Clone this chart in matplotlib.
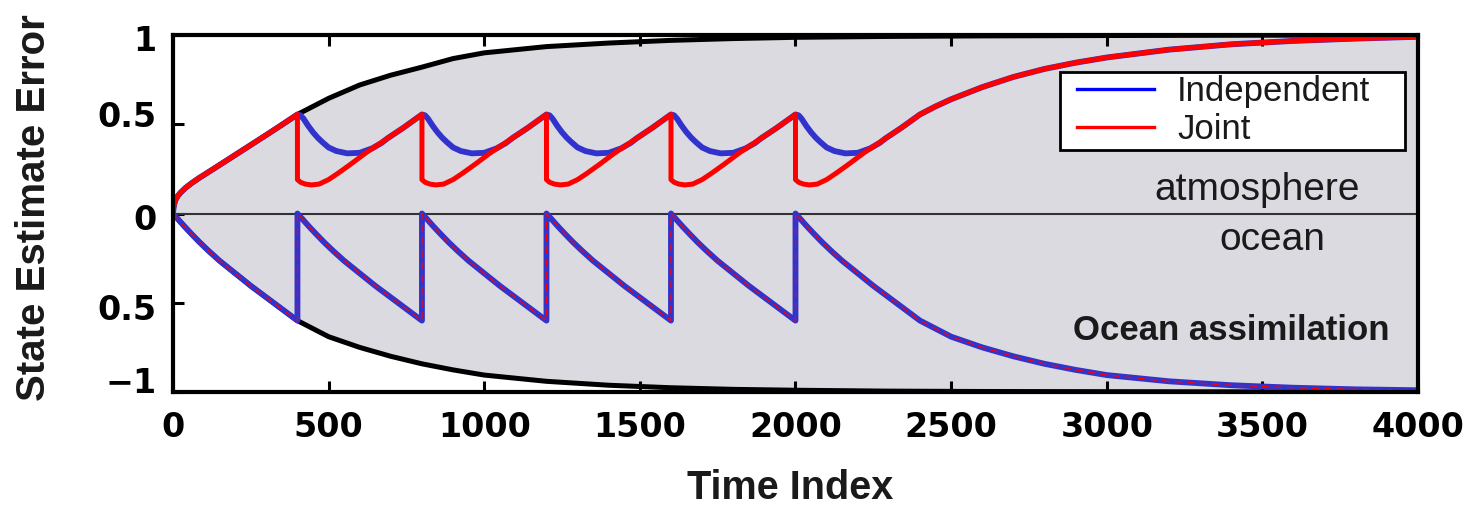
import numpy as np
import matplotlib
matplotlib.use("Agg")
import matplotlib.pyplot as plt
from matplotlib.lines import Line2D
from matplotlib.patches import Rectangle
from matplotlib.transforms import ScaledTranslation

plt.rcParams['font.family'] = ['Liberation Sans', 'DejaVu Sans']

# ---- data ----
# envelopes (no assimilation), black curves
env_t = [0, 3, 8, 15, 25, 40, 60, 85, 115, 150, 200, 250, 300, 350, 400, 500,
         600, 700, 800, 900, 1000, 1200, 1400, 1600, 1800, 2000, 2300, 2600,
         3000, 3500, 4000]
atm_env = [0, 0.045, 0.075, 0.097, 0.118, 0.143, 0.17, 0.2, 0.233, 0.272, 0.328,
           0.384, 0.44, 0.497, 0.555, 0.645, 0.72, 0.775, 0.82, 0.868, 0.9,
           0.935, 0.955, 0.97, 0.98, 0.987, 0.992, 0.995, 0.997, 0.999, 1.0]
ocn_env = [0, -0.006, -0.016, -0.029, -0.049, -0.078, -0.115, -0.16, -0.21,
           -0.265, -0.335, -0.405, -0.47, -0.535, -0.6, -0.69, -0.75, -0.8,
           -0.842, -0.876, -0.905, -0.94, -0.962, -0.976, -0.985, -0.99, -0.995,
           -0.997, -0.998, -0.999, -1.0]

# ocean assimilation times
assim_t = [400, 800, 1200, 1600, 2000]

# atmosphere error after one assimilation (offset from assimilation time)
joint_off = [0, 0, 10, 25, 45, 70, 100, 130, 170, 220, 280, 340, 400]
joint_cyc = [0.555, 0.19, 0.175, 0.165, 0.16, 0.165, 0.19, 0.225, 0.275, 0.34,
             0.41, 0.48, 0.555]
indep_off = [0, 10, 20, 35, 50, 65, 80, 100, 125, 160, 200, 240, 270, 290, 340, 400]
indep_cyc = [0.555, 0.55, 0.53, 0.49, 0.455, 0.425, 0.4, 0.37, 0.35, 0.337, 0.34,
             0.365, 0.395, 0.422, 0.48, 0.555]

# atmosphere error after the last assimilation period
tail_t = [2450, 2500, 2600, 2700, 2800, 2900, 3000, 3200, 3400, 3600, 3800, 4000]
tail_atm = [0.6, 0.64, 0.708, 0.765, 0.81, 0.845, 0.874, 0.918, 0.948, 0.967,
            0.98, 0.99]

xticks = [0, 500, 1000, 1500, 2000, 2500, 3000, 3500, 4000]
yticks = [-1, -0.5, 0, 0.5, 1]
ytick_labels = ['\u22121', '0.5', '0', '0.5', '1']

# ---- build the series ----
env_t = np.array(env_t)
atm_env = np.array(atm_env)
ocn_env = np.array(ocn_env)
first = env_t <= 400


def atm_series(off, cyc):
    ts = [env_t[first]]
    vs = [atm_env[first]]
    for d in assim_t:
        ts.append(d + np.array(off))
        vs.append(np.array(cyc))
    ts.append(np.array(tail_t))
    vs.append(np.array(tail_atm))
    return np.concatenate(ts), np.concatenate(vs)


joint_t, joint_v = atm_series(joint_off, joint_cyc)
indep_t, indep_v = atm_series(indep_off, indep_cyc)

ocn_t = []
ocn_v = []
for d in [0] + assim_t:
    keep = env_t <= (2000 if d == 2000 else 400)
    ocn_t.append(d + env_t[keep])
    ocn_v.append(ocn_env[keep])
ocn_t = np.concatenate(ocn_t)
ocn_v = np.concatenate(ocn_v)

# ---- plot ----
fig = plt.figure(figsize=(14.73, 5.08), dpi=100)
ax = fig.add_axes([0.1174, 0.2283, 0.8453, 0.7028])

blue = '#3232cc'
red = '#ff0000'

ax.fill_between(env_t, ocn_env, atm_env, color='#dadae0', lw=0, zorder=1)
ax.axhline(0, color='#333333', lw=1.5, zorder=2)
ax.plot(env_t, atm_env, color='black', lw=3.6, zorder=2)
ax.plot(env_t, ocn_env, color='black', lw=3.6, zorder=2)

ax.plot(indep_t, indep_v, color=blue, lw=4.2, zorder=3)
ax.plot(joint_t, joint_v, color=red, lw=3.6, zorder=4)
ax.plot(ocn_t, ocn_v, color=blue, lw=4.2, zorder=3)
ax.plot(ocn_t, ocn_v, color=red, lw=0.9, ls=(0, (6, 4)), zorder=4)

ax.set_xlim(0, 4000)
ax.set_ylim(-1, 1)
ax.set_xticks(xticks)
ax.set_xticklabels([str(x) for x in xticks])
ax.set_yticks(yticks)
ax.set_yticklabels(ytick_labels)
ax.tick_params(direction='in', length=8, width=2.2, top=True, right=False,
               labelsize=24)
ax.tick_params(axis='x', pad=13.5)
ax.tick_params(axis='y', pad=12)
for lab in ax.get_xticklabels() + ax.get_yticklabels():
    lab.set_fontfamily('DejaVu Sans')
    lab.set_fontweight('bold')
# labels in the source sit a little off their ticks
ylab_dy = [12, -4, -3, 10, -3]
for lab, dy in zip(ax.get_yticklabels(), ylab_dy):
    lab.set_transform(lab.get_transform() +
                      ScaledTranslation(0, dy / 100, fig.dpi_scale_trans))
for s in ax.spines.values():
    s.set_linewidth(3)
    s.set_zorder(7)

# legend with its own box
box = Rectangle((0.7124, 0.6779), 0.2771, 0.2185, transform=ax.transAxes,
                facecolor='white', edgecolor='black', lw=2, zorder=5)
ax.add_patch(box)
handles = [Line2D([], [], color='#0000ff', lw=2.4),
           Line2D([], [], color=red, lw=2.4)]
leg = ax.legend(handles, ['Independent', 'Joint'], loc='upper left',
                bbox_to_anchor=(0.7261, 0.888), frameon=False, fontsize=25,
                handlelength=2.22, handletextpad=0.66, borderpad=0,
                borderaxespad=0, labelspacing=0.15)
leg.set_zorder(6)
for txt in leg.get_texts():
    txt.set_color('#1a1a1a')

ax.text(3483, 0.076, 'atmosphere', fontsize=28, ha='center', va='baseline',
        color='#1a1a1a', zorder=6)
ax.text(3531, -0.204, 'ocean', fontsize=28, ha='center', va='baseline',
        color='#1a1a1a', zorder=6)
ax.text(3399, -0.709, 'Ocean assimilation', fontsize=25, fontweight='bold',
        ha='center', va='baseline', color='#1a1a1a', zorder=6)

fig.text(34 / 1473, 1 - 208 / 508, 'State Estimate Error', rotation=90,
         ha='center', va='center', fontsize=29, fontweight='bold',
         color='#1a1a1a')
fig.text(790 / 1473, 9 / 508, 'Time Index', ha='center', va='baseline',
         fontsize=28.5, fontweight='bold', color='#1a1a1a')

fig.savefig('out.png', dpi=100)
